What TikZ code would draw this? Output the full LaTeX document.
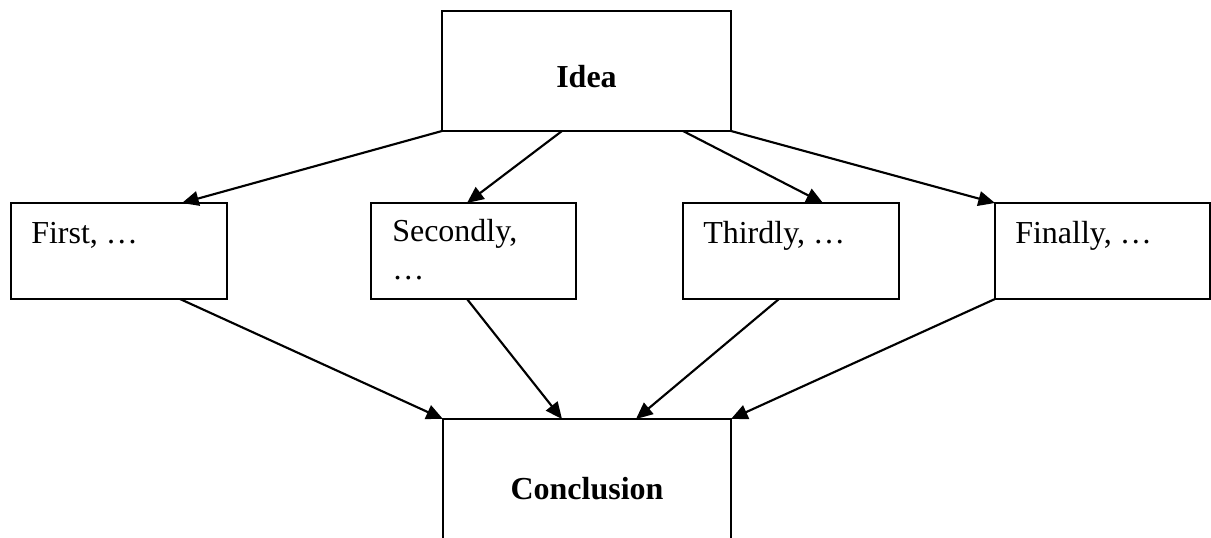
\documentclass[tikz,border=0pt]{standalone}
\usepackage{fontspec}
\setmainfont{Liberation Serif}
\usetikzlibrary{arrows.meta,calc}
\begin{document}
\begin{tikzpicture}[x=0.75pt,y=-0.75pt,
  box/.style={draw,line width=1.6pt,inner sep=0pt,outer sep=0pt},
  txt/.style={inner sep=0pt,font=\fontsize{24}{28.5}\selectfont},
  link/.style={line width=1.6pt,-{Triangle[length=12.5pt,width=11pt]}}]
\clip (0,0) rectangle (1211,538);
\useasboundingbox (0,0) rectangle (1211,538);
\fill[white] (0,0) rectangle (1211,538);

% boxes
\node[box,minimum width=216.75pt,minimum height=90pt] (idea) at (586.5,71) {};
\node[box,minimum width=162pt,minimum height=72pt] (first) at (119,251) {};
\node[box,minimum width=153.75pt,minimum height=72pt] (second) at (473.5,251) {};
\node[box,minimum width=162pt,minimum height=72pt] (third) at (791,251) {};
\node[box,minimum width=161.25pt,minimum height=72pt] (final) at (1102.5,251) {};
\node[box,minimum width=216pt,minimum height=120pt] (concl) at (587,499) {};

% texts
\node[txt,anchor=base] (ideat) at (586.5,88) {\textbf{Idea}};
\node[txt,anchor=base west] (firstt) at (31,244) {First, …};
\node[txt,anchor=base west,align=left] (secondt) at (392,280) {Secondly,\\…};
\node[txt,anchor=base west] (thirdt) at (703,244) {Thirdly, …};
\node[txt,anchor=base west] (finalt) at (1015,244) {Finally, …};
\node[txt,anchor=base] (conclt) at (587,499) {\textbf{Conclusion}};

% idea to the four points
\draw[link] (idea.south west) -- ($(first.north west)+(171,0)$);
\draw[link] ($(idea.south west)+(120,0)$) -- ($(second.north west)+(96,0)$);
\draw[link] ($(idea.south west)+(241,0)$) -- ($(third.north west)+(140,0)$);
\draw[link] (idea.south east) -- (final.north west);

% the four points to the conclusion
\draw[link] ($(first.south west)+(169,0)$) -- (concl.north west);
\draw[link] ($(second.south west)+(96,0)$) -- ($(concl.north west)+(119,0)$);
\draw[link] ($(third.south west)+(96,0)$) -- ($(concl.north west)+(193,0)$);
\draw[link] (final.south west) -- (concl.north east);
\end{tikzpicture}
\end{document}
